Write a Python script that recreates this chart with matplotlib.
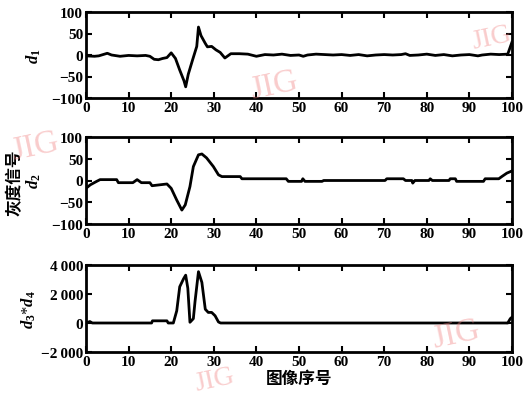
import matplotlib
matplotlib.use("Agg")
import matplotlib.pyplot as plt
from matplotlib.ticker import FixedLocator

plt.rcParams['font.family'] = ['Liberation Serif', 'Noto Sans CJK SC']
plt.rcParams['font.weight'] = 'bold'
plt.rcParams['mathtext.fontset'] = 'custom'
plt.rcParams['mathtext.it'] = 'Liberation Serif:italic:bold'
plt.rcParams['mathtext.rm'] = 'Liberation Serif:bold'

# ---- data ----
x1 = [0, 2, 3, 4, 5, 6, 8, 10, 12, 14, 15, 16, 17, 18, 19, 20, 21, 22, 23, 23.4, 24, 25, 26,
      26.4, 27, 28, 28.5, 29.5, 30.5, 31.5, 32.6, 34, 36, 38, 40, 42, 44, 46, 48, 50, 51, 52,
      54, 56, 58, 60, 62, 64, 66, 68, 70, 72, 74, 75, 76, 78, 80, 82, 84, 86, 88, 90, 92, 93,
      95, 97, 99, 100]
d1 = [-2, -3, -2, 1, 4, 0, -3, -1, -2, -1, -3, -10, -11, -8, -6, 5, -8, -35, -60, -74, -45,
      -12, 20, 65, 45, 27, 19, 20, 12, 6, -7, 3, 3, 2, -3, 1, 0, 2, -1, 0, -3, 0, 2, 1, 0, 1,
      -1, 1, -2, 0, 1, 0, 1, 3, -1, 0, 2, -1, 1, -2, 0, 1, -2, 0, 2, 1, 2, 30]

x2 = [0, 1, 2.5, 3.3, 7.2, 7.6, 11, 12, 13, 15, 15.5, 19, 20, 21.3, 22.5, 23.3, 24.4, 25.2,
      26.4, 27.2, 28.3, 29.9, 31.1, 31.9, 36.2, 36.6, 47, 47.5, 50.6, 50.9, 51.4, 55.4, 55.8,
      70.2, 70.6, 74.5, 75, 76.5, 76.7, 77.2, 80.5, 80.8, 81.3, 85.2, 85.5, 86.7, 87, 93.3,
      93.7, 96.9, 97.6, 98.8, 100]
d2 = [-18, -10, -2, 2, 2, -5, -5, 2, -5, -5, -12, -8, -18, -45, -68, -56, -14, 32, 59, 61,
      52, 32, 13, 9, 9, 4, 4, -2, -2, 4, -2, -2, 0, 0, 4, 4, 0, 0, -6, 0, 0, 4, 0, 0, 4, 4,
      -2, -2, 4, 4, 9, 17, 22]

x3 = [0, 0.9, 1.5, 15.4, 15.6, 19, 19.3, 20.5, 21.3, 22, 22.9, 23.4, 23.9, 24.4, 25.2, 25.6,
      26.4, 27.2, 28, 28.7, 29.5, 30.3, 31.1, 31.6, 99, 99.6, 100]
d34 = [0, 100, 0, 0, 150, 150, 0, 0, 840, 2500, 3050, 3300, 2400, 50, 300, 1500, 3540, 2800,
       950, 730, 730, 500, 70, 0, 0, 300, 400]

xticks = [0, 10, 20, 30, 40, 50, 60, 70, 80, 90, 100]
yticks12 = [-100, -50, 0, 50, 100]
yticklabels12 = ['\u2212100', '\u221250', '0', '50', '100']
yticks3 = [-2000, 0, 2000, 4000]
yticklabels3 = ['\u22122\u2009000', '0', '2\u2009000', '4\u2009000']

fig = plt.figure(figsize=(5.27, 4.02), dpi=100)
W, H = 527, 402
L, R = 86, 512
tops = [13, 138, 266]
bots = [99, 225, 353]
axes = []
for t, b in zip(tops, bots):
    axes.append(fig.add_axes([L / W, 1 - b / H, (R - L) / W, (b - t) / H]))

series = [(x1, d1), (x2, d2), (x3, d34)]
for ax, (xs, ys) in zip(axes, series):
    ax.plot(xs, ys, color='black', lw=2.0, solid_joinstyle='round')
    ax.set_xlim(0, 100)
    ax.xaxis.set_major_locator(FixedLocator(xticks))
    ax.tick_params(direction='in', top=True, right=True, length=4, width=1.5,
                   labelsize=11, pad=2)
    for s in ax.spines.values():
        s.set_linewidth(2.0)

for ax in axes[:2]:
    ax.set_ylim(-100, 100)
    ax.set_yticks(yticks12)
    ax.set_yticklabels(yticklabels12)
axes[2].set_ylim(-2000, 4000)
axes[2].set_yticks(yticks3)
axes[2].set_yticklabels(yticklabels3)

for ax in axes:
    for lab in ax.get_xticklabels() + ax.get_yticklabels():
        lab.set_fontweight('bold')

axes[0].set_ylabel(r'$d_1$', fontsize=12, labelpad=6)
axes[1].set_ylabel(r'$d_2$', fontsize=12, labelpad=6)
axes[2].set_ylabel(r'$d_3$*$d_4$', fontsize=12, labelpad=2)
axes[2].set_xlabel('图像序号', fontsize=12, fontweight='bold',
                   family=['Noto Sans CJK SC'], labelpad=1)
fig.text(15 / W, 1 - 183 / H, '灰度信号', rotation=90, ha='center', va='center',
         fontsize=12, fontweight='bold', family=['Noto Sans CJK SC'])

# watermarks
wm = dict(color='#f08080', alpha=0.4, fontsize=24, family=['Liberation Serif'],
          fontweight='normal', ha='center', va='center', rotation=12)
for (px, py, fs) in [(274, 86, 24), (492, 38, 20), (35, 147, 24), (456, 335, 24), (215, 380, 20)]:
    wm['fontsize'] = fs
    fig.text(px / W, 1 - py / H, 'JIG', **wm)

fig.savefig('out.png', dpi=100)
